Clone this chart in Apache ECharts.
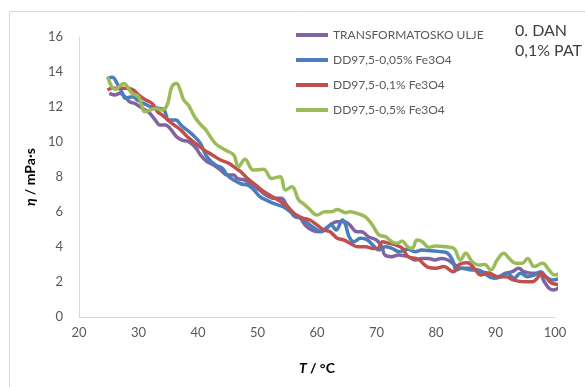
<!DOCTYPE html>
<html>
<head>
<meta charset="utf-8">
<script src="https://cdn.jsdelivr.net/npm/echarts@6/dist/echarts.min.js"></script>
<style>html,body{margin:0;padding:0;background:#fff}#c{width:585px;height:387px}</style>
</head>
<body>
<div id="c"></div>
<script>
const seriesNames = ['TRANSFORMATOSKO ULJE', 'DD97,5-0,05% Fe3O4', 'DD97,5-0,1% Fe3O4', 'DD97,5-0,5% Fe3O4'];
const xTicks = [20, 30, 40, 50, 60, 70, 80, 90, 100];
const yTicks = [0, 2, 4, 6, 8, 10, 12, 14, 16];

const tOil = [25.1, 26, 26.9, 27.7, 28.5, 29.4, 30.2, 31.1, 31.9, 32.8, 33.6, 34.5, 35.3, 36.4, 37.3, 38.4, 39.5, 40.4, 41.5, 42.6, 43.8, 44.9, 46, 46.6, 47.7, 49.2, 50.3, 51.4, 52.9, 54, 54.9, 56, 57.1, 58, 59.1, 60.2, 61.3, 62.2, 63.3, 64.7, 65.5, 66.7, 67.5, 68.6, 70, 70.9, 71.4, 72.5, 73.7, 75.3, 76.5, 77.6, 78.7, 79.8, 80.9, 82, 83.2, 84.3, 86, 87.5, 88.9, 90.3, 91.7, 92.8, 93.9, 94.8, 95.9, 97.3, 98.2, 99, 99.8, 100.8];
const etaOil = [12.78, 12.69, 12.78, 12.59, 12.3, 12.2, 12.02, 11.83, 11.64, 11.26, 10.97, 10.97, 10.78, 10.3, 10.11, 10.02, 9.73, 9.26, 8.88, 8.69, 8.4, 8.11, 8.11, 7.92, 7.83, 7.54, 7.26, 6.97, 6.78, 6.78, 6.4, 5.92, 5.7, 5.26, 4.97, 4.87, 4.97, 5.26, 5.45, 5.45, 5.26, 4.87, 4.87, 4.59, 4.4, 4.02, 3.54, 3.45, 3.54, 3.45, 3.26, 3.35, 3.35, 3.26, 3.35, 3.26, 2.97, 2.78, 2.78, 2.59, 2.5, 2.3, 2.5, 2.59, 2.78, 2.59, 2.5, 2.5, 2.02, 1.64, 1.54, 1.73];

const t005 = [24.8, 25.6, 26.4, 27.3, 27.8, 29, 29.8, 30.9, 32, 33.4, 34.3, 35.1, 36.3, 37.1, 38.5, 39.3, 40.4, 41.5, 42.9, 44.1, 44.9, 46, 47.3, 48.4, 49.4, 50.3, 51.4, 52.9, 54.3, 55.5, 56.3, 57.4, 58.5, 59.6, 60.7, 61.5, 62.4, 63.2, 64.3, 64.8, 65.4, 66.2, 67.3, 68.5, 69.6, 70.4, 71.5, 72.6, 73.8, 75.3, 76.5, 77.6, 79.2, 80.9, 82, 82.9, 83.4, 84.3, 86, 87.1, 88.1, 89.7, 90.9, 92, 93.1, 94.2, 95.4, 96.5, 97.6, 98.5, 99.6, 100.8];
const eta005 = [13.64, 13.7, 13.35, 12.78, 12.5, 12.59, 12.4, 12.2, 12.02, 11.92, 11.83, 11.26, 11.26, 10.97, 10.59, 10.35, 9.92, 9.16, 8.69, 8.5, 8.11, 7.83, 7.6, 7.54, 7.26, 6.91, 6.69, 6.46, 6.3, 6.02, 5.73, 5.64, 5.35, 5.07, 4.87, 5.07, 5.26, 4.97, 5.54, 5.26, 4.59, 4.3, 4.5, 4.4, 4.02, 3.83, 4.02, 3.92, 3.73, 3.87, 3.73, 3.83, 3.79, 3.73, 3.64, 3.16, 2.69, 2.78, 2.69, 2.69, 2.5, 2.21, 2.3, 2.5, 2.21, 2.5, 2.3, 2.4, 2.59, 2.3, 2.11, 2.21];

const t01 = [24.8, 25.6, 26.7, 27.8, 29, 30, 31.2, 32.3, 33.2, 34, 34.9, 36, 37.1, 38.2, 39.3, 41, 42.4, 43.8, 45.2, 46, 47.2, 48.3, 49.7, 51.1, 52.5, 53.9, 55.3, 56.4, 57.7, 58.8, 60, 61.1, 62.2, 63.4, 64.5, 65.6, 66.8, 68.2, 69.3, 70.2, 71, 72.1, 73.3, 74.4, 75.3, 77, 78.6, 80, 81.3, 82.9, 83.9, 85.3, 86.6, 87.5, 88.9, 90.3, 91.7, 93.1, 94.8, 96.2, 97, 97.6, 98.4, 99.5, 100.8];
const eta01 = [12.97, 13.07, 13.07, 13.07, 13.0, 12.69, 12.4, 12.2, 11.73, 11.54, 11.26, 10.97, 10.69, 10.3, 10.0, 9.55, 9.26, 8.97, 8.78, 8.59, 8.3, 7.92, 7.54, 7.16, 6.87, 6.59, 6.21, 5.85, 5.64, 5.54, 5.26, 4.97, 4.87, 4.5, 4.4, 4.21, 4.02, 4.02, 3.92, 3.92, 4.3, 4.21, 4.11, 3.92, 3.45, 3.3, 2.85, 2.78, 2.88, 2.59, 3.0, 3.1, 2.7, 2.4, 2.5, 2.3, 2.3, 2.11, 2.02, 2.02, 2.21, 2.5, 2.3, 1.92, 1.86];

const t05 = [24.8, 26.1, 27.5, 28.9, 30, 31.1, 32, 32.8, 33.9, 34.8, 35.6, 36.4, 37, 37.6, 38.4, 39.5, 40.7, 41.2, 42.9, 44.6, 46, 46.8, 47.9, 49.3, 51, 52.4, 53.8, 54.7, 55.8, 56.9, 57.8, 58.6, 60, 61.4, 62.5, 63.4, 64.8, 65.6, 67, 68.1, 69.3, 70.4, 71.5, 72.6, 73.5, 74.3, 75.2, 76, 76.8, 77.7, 78.8, 79.9, 81.6, 83, 84.1, 85, 86.1, 87.2, 88.2, 89.2, 90.3, 91.4, 92.3, 93.4, 94.5, 95.4, 96.5, 97.9, 99, 99.9, 100.8];
const eta05 = [13.73, 13.0, 13.35, 12.78, 12.59, 11.73, 11.83, 11.92, 11.83, 12.1, 13.16, 13.35, 12.97, 12.4, 12.1, 11.4, 10.9, 10.75, 9.92, 9.54, 9.26, 8.59, 9.01, 8.4, 8.44, 7.92, 8.02, 7.26, 7.45, 6.7, 6.45, 6.21, 5.83, 6.02, 6.02, 6.15, 5.96, 6.02, 5.89, 5.73, 5.26, 4.69, 4.59, 4.3, 4.21, 4.35, 4.02, 3.92, 4.4, 4.3, 3.98, 4.06, 4.02, 3.92, 3.26, 3.64, 3.16, 2.97, 3.0, 2.69, 3.26, 3.64, 3.35, 3.07, 3.07, 3.35, 2.88, 3.07, 2.69, 2.4, 2.5];

const colors = ['#8064A2', '#4A7EBB', '#C0504D', '#9BBB59'];
const allT = [tOil, t005, t01, t05];
const allEta = [etaOil, eta005, eta01, eta05];

const font = 'Lato, "Open Sans", sans-serif';
const chart = echarts.init(document.getElementById('c'), null, {renderer: 'canvas'});

const series = seriesNames.map((name, i) => ({
  name: name,
  type: 'line',
  data: allT[i].map((t, k) => [t, allEta[i][k]]),
  smooth: 0.4,
  showSymbol: false,
  symbol: 'none',
  clip: false,
  lineStyle: {color: colors[i], width: 3.5},
  itemStyle: {color: colors[i]},
  z: 2 + i
}));

chart.setOption({
  animation: false,
  backgroundColor: '#fff',
  textStyle: {fontFamily: font},
  grid: {left: 79, right: 30, top: 37, bottom: 70, containLabel: false},
  xAxis: {
    type: 'value', min: xTicks[0], max: xTicks[xTicks.length - 1], interval: 10,
    axisLine: {show: true, lineStyle: {color: '#D9D9D9', width: 1}},
    axisTick: {show: false},
    splitLine: {show: false},
    axisLabel: {color: '#595959', fontSize: 13, margin: 9, fontFamily: font},
    name: '{i|T} {n|/ °C}', nameLocation: 'middle', nameGap: 44,
    nameTextStyle: {rich: {
      i: {fontStyle: 'italic', fontWeight: 'bold', fontSize: 14, color: '#000', fontFamily: font},
      n: {fontWeight: 'bold', fontSize: 14, color: '#000', fontFamily: font}
    }}
  },
  yAxis: {
    type: 'value', min: yTicks[0], max: yTicks[yTicks.length - 1], interval: 2,
    axisLine: {show: true, lineStyle: {color: '#D9D9D9', width: 1}},
    axisTick: {show: false},
    splitLine: {show: false},
    axisLabel: {color: '#595959', fontSize: 13, margin: 16, fontFamily: font},
    name: '{i|η} {n|/ mPa·s}', nameLocation: 'middle', nameGap: 39,
    nameTextStyle: {rich: {
      i: {fontStyle: 'italic', fontWeight: 'bold', fontSize: 14, color: '#000', fontFamily: font},
      n: {fontWeight: 'bold', fontSize: 14, color: '#000', fontFamily: font}
    }}
  },
  legend: {
    orient: 'vertical', left: 291, top: 23,
    icon: 'rect', itemWidth: 32, itemHeight: 4, itemGap: 11,
    textStyle: {color: '#595959', fontSize: 12, lineHeight: 14, fontFamily: font},
    data: seriesNames
  },
  graphic: [
    {type: 'rect', shape: {x: 9.5, y: 11.5, width: 620, height: 420}, style: {fill: 'none', stroke: '#D9D9D9', lineWidth: 1}, silent: true, z: -1},
    {type: 'text', left: 515, top: 23, style: {text: '0. DAN', fontSize: 16, fill: '#404040', fontFamily: font}},
    {type: 'text', left: 515, top: 43, style: {text: '0,1% PAT', fontSize: 16, fill: '#404040', fontFamily: font}}
  ],
  series: series
});
</script>
</body>
</html>
